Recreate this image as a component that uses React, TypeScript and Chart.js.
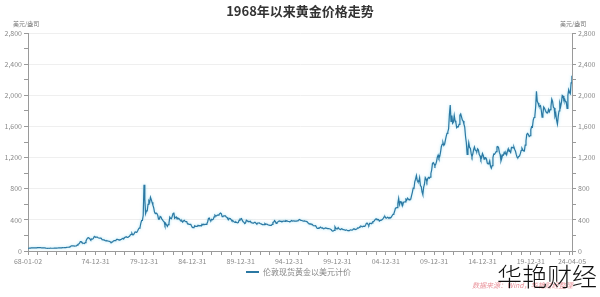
import React, { useEffect, useRef } from 'react';
import { Chart, registerables } from 'chart.js';

Chart.register(...registerables);

// Monthly London spot gold prices (USD/oz), one row per year
const gold1960s: number[][] = [
  [35.2, 35.2, 37.3, 38.0, 41.0, 41.1, 39.5, 39.2, 39.4, 39.3, 39.2, 41.1],
  [42.4, 42.8, 43.2, 43.3, 43.5, 41.4, 42.0, 41.0, 40.9, 40.4, 37.4, 35.2],
];
const gold1970s: number[][] = [
  [34.9, 35.0, 35.1, 35.6, 35.9, 35.4, 35.3, 35.4, 36.2, 37.5, 37.4, 37.4],
  [37.9, 38.7, 38.9, 39.0, 40.5, 40.1, 41.0, 42.7, 42.0, 42.5, 42.9, 43.5],
  [45.8, 48.3, 48.3, 49.0, 54.6, 62.1, 65.7, 67.0, 65.5, 64.9, 62.9, 63.9],
  [65.1, 74.2, 84.4, 90.5, 102.0, 120.1, 120.2, 106.8, 103.0, 100.1, 94.9, 106.7],
  [129.2, 150.2, 168.4, 172.2, 163.3, 154.1, 143.0, 154.6, 151.8, 158.8, 181.7, 183.9],
  [176.3, 179.6, 178.2, 170.1, 167.4, 164.2, 165.2, 163.1, 144.1, 142.8, 142.8, 139.3],
  [131.6, 131.0, 132.6, 128.4, 126.9, 125.7, 117.8, 109.6, 114.3, 116.0, 130.0, 133.8],
  [132.3, 136.4, 148.9, 149.2, 146.7, 140.8, 143.4, 145.0, 149.8, 159.0, 161.9, 160.5],
  [173.2, 178.2, 183.7, 175.3, 176.3, 183.8, 188.7, 206.1, 212.4, 227.4, 206.1, 207.8],
  [227.3, 245.7, 242.1, 239.2, 257.6, 279.1, 294.7, 300.9, 355.1, 391.7, 392.5, 455.1],
];
const gold1980s: number[][] = [
  [850, 665, 480, 515, 515, 600, 645, 627, 690, 660, 625, 590],
  [557, 500, 480, 487, 479, 460, 409, 410, 443, 437, 413, 400],
  [384, 374, 330, 350, 334, 315, 340, 360, 435, 420, 415, 445],
  [480, 495, 420, 430, 437, 413, 422, 416, 412, 393, 382, 388],
  [370, 385, 394, 381, 378, 378, 348, 348, 341, 341, 341, 320],
  [303, 299, 303, 325, 316, 316, 317, 330, 323, 325, 325, 322],
  [345, 338, 345, 340, 342, 343, 348, 376, 418, 423, 396, 390],
  [408, 401, 409, 438, 460, 450, 450, 460, 460, 466, 480, 487],
  [477, 442, 444, 452, 452, 451, 437, 432, 413, 406, 420, 418],
  [404, 388, 390, 384, 371, 367, 375, 365, 362, 366, 394, 410],
];
const gold1990s: number[][] = [
  [410, 416, 393, 374, 369, 352, 362, 395, 389, 380, 381, 378],
  [383, 364, 363, 358, 357, 367, 368, 356, 348, 358, 360, 361],
  [354, 354, 345, 338, 337, 340, 352, 343, 345, 344, 335, 334],
  [329, 330, 330, 342, 367, 372, 392, 379, 355, 364, 373, 383],
  [387, 382, 384, 377, 381, 385, 385, 380, 391, 389, 384, 379],
  [379, 376, 382, 391, 385, 387, 386, 383, 383, 383, 386, 387],
  [400, 405, 396, 393, 392, 385, 383, 387, 383, 381, 378, 369],
  [355, 347, 352, 344, 344, 341, 324, 324, 323, 325, 306, 289],
  [289, 297, 296, 308, 299, 292, 293, 284, 289, 296, 294, 291],
  [287, 287, 286, 282, 277, 262, 256, 257, 265, 311, 293, 283],
];
const gold2000s: number[][] = [
  [284, 300, 286, 280, 275, 286, 282, 275, 274, 270, 266, 272],
  [266, 262, 263, 261, 272, 270, 268, 273, 283, 283, 276, 276],
  [282, 296, 294, 302, 314, 321, 314, 310, 320, 317, 319, 333],
  [357, 359, 340, 328, 355, 356, 351, 360, 379, 379, 390, 407],
  [414, 405, 406, 404, 384, 392, 398, 400, 406, 420, 439, 442],
  [424, 423, 434, 429, 422, 430, 424, 437, 456, 470, 476, 510],
  [549, 555, 557, 610, 675, 596, 633, 632, 598, 585, 627, 629],
  [631, 665, 654, 679, 667, 655, 665, 665, 712, 754, 806, 803],
  [889, 922, 968, 909, 888, 889, 940, 839, 829, 760, 725, 816],
  [858, 943, 924, 890, 928, 945, 934, 949, 996, 1043, 1127, 1135],
];
const gold2010s: number[][] = [
  [1117, 1095, 1113, 1148, 1205, 1232, 1193, 1215, 1271, 1343, 1370, 1392],
  [1356, 1372, 1424, 1473, 1510, 1529, 1572, 1756, 1875, 1665, 1739, 1640],
  [1656, 1742, 1673, 1650, 1585, 1596, 1594, 1626, 1744, 1760, 1722, 1684],
  [1670, 1630, 1590, 1470, 1390, 1240, 1300, 1390, 1330, 1320, 1250, 1210],
  [1244, 1300, 1336, 1299, 1288, 1279, 1311, 1296, 1239, 1222, 1176, 1201],
  [1251, 1227, 1179, 1198, 1199, 1181, 1129, 1118, 1125, 1157, 1086, 1062],
  [1097, 1199, 1246, 1242, 1259, 1276, 1337, 1341, 1326, 1266, 1238, 1157],
  [1192, 1234, 1231, 1266, 1246, 1260, 1236, 1283, 1314, 1280, 1283, 1265],
  [1331, 1331, 1325, 1335, 1303, 1281, 1237, 1202, 1198, 1215, 1220, 1250],
  [1291, 1320, 1300, 1286, 1284, 1359, 1413, 1500, 1510, 1495, 1470, 1480],
];
const gold2020s: number[][] = [
  [1560, 1597, 1591, 1680, 1715, 1732, 1846, 2050, 1922, 1900, 1866, 1858],
  [1867, 1808, 1718, 1760, 1850, 1834, 1807, 1785, 1775, 1776, 1820, 1790],
  [1817, 1856, 1950, 1920, 1848, 1837, 1733, 1765, 1680, 1630, 1725, 1798],
  [1898, 1855, 1910, 1999, 1990, 1942, 1951, 1918, 1916, 1830, 2000, 2070],
  [2035, 2020, 2160, 2250],
];
const decadeStarts = [1968, 1970, 1980, 1990, 2000, 2010, 2020];
const decadeRows = [gold1960s, gold1970s, gold1980s, gold1990s, gold2000s, gold2010s, gold2020s];

const xLabelDates = [
  '1968-01-02', '1974-12-31', '1979-12-31', '1984-12-31', '1989-12-31', '1994-12-31',
  '1999-12-31', '2004-12-31', '2009-12-31', '2014-12-31', '2019-12-31', '2024-04-05',
];
const yTickStep = 100;
const yLabelStep = 400;
const yMax = 2800;

const seriesName = '伦敦现货黄金以美元计价';
const titleText = '1968年以来黄金价格走势';
const unitText = '美元/盎司';
const sourceText = '数据来源：Wind，华艳财经整理';
const brandText = '华艳财经';

const LINE_COLOR = '#2b78a3';
const FONT = "'Noto Sans CJK SC', 'Noto Sans', sans-serif";

function dateToYear(d: string): number {
  const [y, m, day] = d.split('-').map(Number);
  const start = Date.UTC(y, 0, 1);
  const cur = Date.UTC(y, m - 1, day);
  const len = (Date.UTC(y + 1, 0, 1) - start);
  return y + (cur - start) / len;
}

export default function App() {
  const ref = useRef<HTMLCanvasElement>(null);

  useEffect(() => {
    if (!ref.current) return;
    const points: { x: number; y: number }[] = [];
    decadeRows.forEach((rows, di) => {
      rows.forEach((row, ri) => {
        const year = decadeStarts[di] + ri;
        row.forEach((v, mi) => points.push({ x: year + mi / 12, y: v }));
      });
    });

    const labelPos = xLabelDates.map(dateToYear);
    const labelMap = new Map<number, string>();
    labelPos.forEach((p, i) => labelMap.set(p, xLabelDates[i].slice(2)));
    const xMin = labelPos[0];
    const xMax = labelPos[labelPos.length - 1];
    const tickVals: number[] = [...labelPos];
    for (let y = 1969; y <= 2024; y++) {
      if (labelPos.every((p) => Math.abs(p - y) > 0.2) && y < xMax) tickVals.push(y);
    }
    tickVals.sort((a, b) => a - b);

    const shadow = {
      id: 'lineShadow',
      beforeDatasetDraw(chart: any) {
        const c = chart.ctx;
        c.save();
        c.shadowColor = 'rgba(80,200,235,0.55)';
        c.shadowBlur = 3;
      },
      afterDatasetDraw(chart: any) {
        chart.ctx.restore();
      },
    };

    const tickFont = { family: FONT, size: 7 };
    const chart = new Chart(ref.current, {
      type: 'line',
      data: {
        datasets: [
          {
            label: seriesName,
            data: points,
            borderColor: LINE_COLOR,
            backgroundColor: LINE_COLOR,
            borderWidth: 1.2,
            pointRadius: 0,
            tension: 0,
            yAxisID: 'y',
          },
        ],
      },
      plugins: [shadow],
      options: {
        responsive: false,
        animation: false,
        events: [],
        layout: { padding: { top: 33, left: 0, right: 0, bottom: 0 } },
        plugins: {
          legend: { display: false },
          title: { display: false },
          tooltip: { enabled: false },
        },
        scales: {
          x: {
            type: 'linear',
            min: xMin,
            max: xMax,
            afterBuildTicks: (s: any) => {
              s.ticks = tickVals.map((v) => ({ value: v }));
            },
            afterFit: (s: any) => {
              s.height = 46;
            },
            border: { color: '#9a9a9a' },
            grid: { drawOnChartArea: false, tickLength: 4, tickColor: '#9a9a9a' },
            ticks: {
              autoSkip: false,
              maxRotation: 0,
              padding: 2,
              color: '#8a8a8a',
              font: tickFont,
              callback: (v: any) => labelMap.get(v) ?? '',
            },
          },
          y: {
            type: 'linear',
            position: 'left',
            min: 0,
            max: yMax,
            afterFit: (s: any) => {
              s.width = 28;
            },
            border: { color: '#9a9a9a' },
            grid: {
              color: (c: any) => (c.tick && c.tick.value % yLabelStep === 0 && c.tick.value > 0 ? '#efefef' : 'rgba(0,0,0,0)'),
              tickColor: '#9a9a9a',
              tickLength: 4,
            },
            ticks: {
              stepSize: yTickStep,
              padding: 2,
              color: '#8a8a8a',
              font: tickFont,
              callback: (v: any) => (v % yLabelStep === 0 ? Number(v).toLocaleString('en-US') : ''),
            },
          },
          y2: {
            type: 'linear',
            position: 'right',
            display: true,
            min: 0,
            max: yMax,
            afterFit: (s: any) => {
              s.width = 28;
            },
            border: { color: '#9a9a9a' },
            grid: { drawOnChartArea: false, tickColor: '#9a9a9a', tickLength: 4 },
            ticks: {
              stepSize: yTickStep,
              padding: 2,
              color: '#8a8a8a',
              font: tickFont,
              callback: (v: any) => (v % yLabelStep === 0 ? Number(v).toLocaleString('en-US') : ''),
            },
          },
        },
      } as any,
    });
    return () => chart.destroy();
  }, []);

  const abs: React.CSSProperties = { position: 'absolute', fontFamily: FONT, whiteSpace: 'nowrap', lineHeight: 1 };

  return (
    <div style={{ position: 'fixed', left: 0, top: 0, width: 600, height: 297, background: '#fff', overflow: 'hidden' }}>
      <canvas ref={ref} width={600} height={297} style={{ position: 'absolute', left: 0, top: 0 }} />
      <div style={{ ...abs, left: 0, width: 600, top: 4, textAlign: 'center', fontSize: 13, fontWeight: 700, color: '#333' }}>
        {titleText}
      </div>
      <div style={{ ...abs, left: 13, top: 21, fontSize: 6, color: '#777' }}>{unitText}</div>
      <div style={{ ...abs, left: 560, top: 21, fontSize: 6, color: '#777' }}>{unitText}</div>
      <div style={{ ...abs, left: 246, top: 268, display: 'flex', alignItems: 'center', fontSize: 8, color: '#888' }}>
        <span style={{ display: 'inline-block', width: 13, height: 2, background: LINE_COLOR, marginRight: 4 }} />
        {seriesName}
      </div>
      <div style={{ ...abs, left: 472, top: 282, fontSize: 7, fontStyle: 'italic', color: 'rgba(226,110,120,0.75)' }}>
        {sourceText}
      </div>
      <div style={{ ...abs, left: 497, top: 263, fontSize: 25, fontWeight: 300, color: '#111' }}>{brandText}</div>
    </div>
  );
}
